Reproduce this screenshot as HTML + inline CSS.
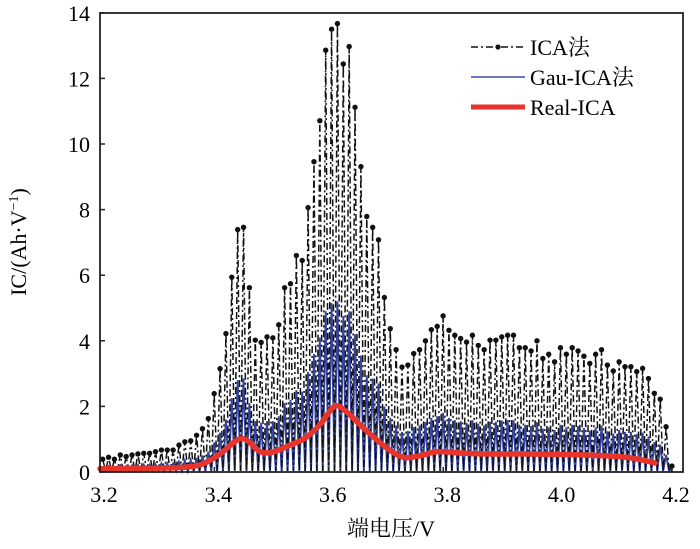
<!DOCTYPE html>
<html><head><meta charset="utf-8"><style>
body{margin:0;background:#fff}
svg{display:block;font-family:"Liberation Serif","Noto Serif CJK SC",serif}
</style></head><body>
<svg id="chart" width="700" height="549" viewBox="0 0 700 549" xmlns="http://www.w3.org/2000/svg">
<g id="plot"></g>
<rect x="100" y="13" width="583" height="459" fill="none" stroke="#222" stroke-width="1.8"/>
<g id="ticks"></g>
<text transform="translate(26,242) rotate(-90)" text-anchor="middle" font-size="22">IC/(Ah·V<tspan dy="-8" font-size="14">−1</tspan><tspan dy="8">)</tspan></text>
<text x="391" y="536" text-anchor="middle" font-size="22">端电压/V</text>
<g>
<g>
<line x1="471" y1="47" x2="525" y2="47" stroke="#111" stroke-width="1.4" stroke-dasharray="7,3,2,3"/>
<circle cx="498" cy="47" r="2.6" fill="#111"/>
<text x="530" y="55" font-size="22">ICA法</text></g>
<g>
<line x1="471" y1="77" x2="525" y2="77" stroke="#3a4aa8" stroke-width="1.5"/>
<text x="530" y="85" font-size="22">Gau-ICA法</text></g>
<g>
<line x1="471" y1="107" x2="525" y2="107" stroke="#e8352c" stroke-width="5"/>
<text x="530" y="115" font-size="22">Real-ICA</text></g>
</g>
</svg>
<script>
const xTicks=[3.2,3.4,3.6,3.8,4.0,4.2];
const xTickLabels=["3.2","3.4","3.6","3.8","4.0","4.2"];
const yTicks=[0,2,4,6,8,10,12,14];
const yTickLabels=["0","2","4","6","8","10","12","14"];
const startV=3.2047;
const stepV=0.01026;
const icaPeaks=[0.39,0.45,0.39,0.52,0.47,0.52,0.55,0.57,0.57,0.62,0.67,0.67,0.67,0.82,0.92,0.95,1.12,1.32,1.63,2.39,3.15,4.22,5.94,7.39,7.46,5.62,4.02,3.95,4.12,4.09,4.49,5.62,5.74,6.6,6.45,8.06,9.46,10.71,12.86,13.5,13.67,12.44,12.97,11.12,9.31,7.79,7.46,7.08,5.32,4.37,3.73,3.2,3.26,3.61,3.73,4.0,4.34,4.44,4.76,4.32,4.17,4.07,3.96,4.17,3.86,3.73,4.02,4.02,4.12,4.17,4.17,3.79,3.79,3.69,4.0,3.46,3.59,3.36,3.79,3.59,3.79,3.69,3.53,3.31,3.59,3.73,3.26,3.08,3.36,3.21,3.21,3.06,3.16,2.85,2.4,2.22,1.38,0.18];
const gauPeaks=[0.15,0.17,0.15,0.2,0.18,0.2,0.21,0.22,0.22,0.24,0.26,0.26,0.26,0.31,0.35,0.36,0.43,0.5,0.62,0.9,1.2,1.6,2.25,2.8,2.85,2.1,1.55,1.5,1.55,1.55,1.7,2.1,2.2,2.5,2.45,3.05,3.6,4.1,4.9,5.15,5.2,4.75,4.9,4.2,3.55,2.95,2.85,2.7,2.0,1.65,1.42,1.22,1.25,1.37,1.42,1.52,1.65,1.7,1.8,1.65,1.58,1.55,1.5,1.58,1.47,1.42,1.53,1.53,1.57,1.58,1.58,1.44,1.44,1.4,1.52,1.32,1.36,1.28,1.44,1.36,1.44,1.4,1.34,1.26,1.36,1.42,1.24,1.17,1.28,1.22,1.22,1.16,1.2,1.08,0.91,0.84,0.52,0.07];
const valleyValue=0.03;
const realV=[3.2,3.3,3.35,3.38,3.41,3.435,3.45,3.465,3.48,3.5,3.53,3.56,3.585,3.61,3.63,3.66,3.7,3.73,3.76,3.79,3.83,3.88,3.95,4.05,4.12,4.17];
const realIC=[0.1,0.12,0.15,0.25,0.55,0.92,1.02,0.85,0.62,0.6,0.8,1.05,1.45,2.0,1.85,1.35,0.75,0.45,0.5,0.62,0.58,0.55,0.55,0.52,0.45,0.28];

const NS="http://www.w3.org/2000/svg";
const X=v=>100+(v-3.2)*572;
const Y=c=>472-c*32.8;
function mk(tag,attrs,parent){const e=document.createElementNS(NS,tag);for(const k in attrs)e.setAttribute(k,attrs[k]);parent.appendChild(e);return e;}
const plot=document.getElementById('plot');
const ticks=document.getElementById('ticks');

function zig(peaks){let d="";for(let i=0;i<peaks.length;i++){const v=startV+i*stepV;d+=(i?"L":"M")+X(v).toFixed(2)+","+Y(peaks[i]).toFixed(2);if(i<peaks.length-1){d+="L"+X(v+stepV/2).toFixed(2)+","+Y(valleyValue).toFixed(2);}}return d;}

const gau=mk('path',{d:zig(gauPeaks),fill:"none",stroke:"#34449f","stroke-width":1.9},plot);



const ica=mk('path',{d:zig(icaPeaks),fill:"none",stroke:"#111","stroke-width":1.5,"stroke-dasharray":"7,3,2,3"},plot);


icaPeaks.forEach((c,i)=>{
  const p=mk('circle',{cx:X(startV+i*stepV),cy:Y(c),r:2.7,fill:"#111"},plot);
  
  
});

const pts=realV.map((v,i)=>[X(v),Y(realIC[i])]);
let rd="M"+pts[0][0]+","+pts[0][1];
for(let i=0;i<pts.length-1;i++){
  const p0=pts[i-1]||pts[i],p1=pts[i],p2=pts[i+1],p3=pts[i+2]||p2;
  const c1=[p1[0]+(p2[0]-p0[0])/6,p1[1]+(p2[1]-p0[1])/6];
  const c2=[p2[0]-(p3[0]-p1[0])/6,p2[1]-(p3[1]-p1[1])/6];
  rd+="C"+c1.join(",")+" "+c2.join(",")+" "+p2.join(",");
}
const real=mk('path',{d:rd,fill:"none",stroke:"#e8352c","stroke-width":5.5,"stroke-linejoin":"round","stroke-linecap":"round"},plot);



xTicks.forEach((v,i)=>{
  const t=mk('line',{x1:X(v),x2:X(v),y1:472,y2:467,stroke:"#222","stroke-width":1.5},ticks);
  
  
  const l=mk('text',{x:X(v)+4,y:502,"text-anchor":"middle","font-size":22},ticks);
  l.textContent=xTickLabels[i];
  
  
});
yTicks.forEach((c,i)=>{
  const t=mk('line',{x1:100,x2:105,y1:Y(c),y2:Y(c),stroke:"#222","stroke-width":1.5},ticks);
  
  
  const l=mk('text',{x:90,y:Y(c)+8,"text-anchor":"end","font-size":22},ticks);
  l.textContent=yTickLabels[i];
  
  
});
</script>
</body></html>
